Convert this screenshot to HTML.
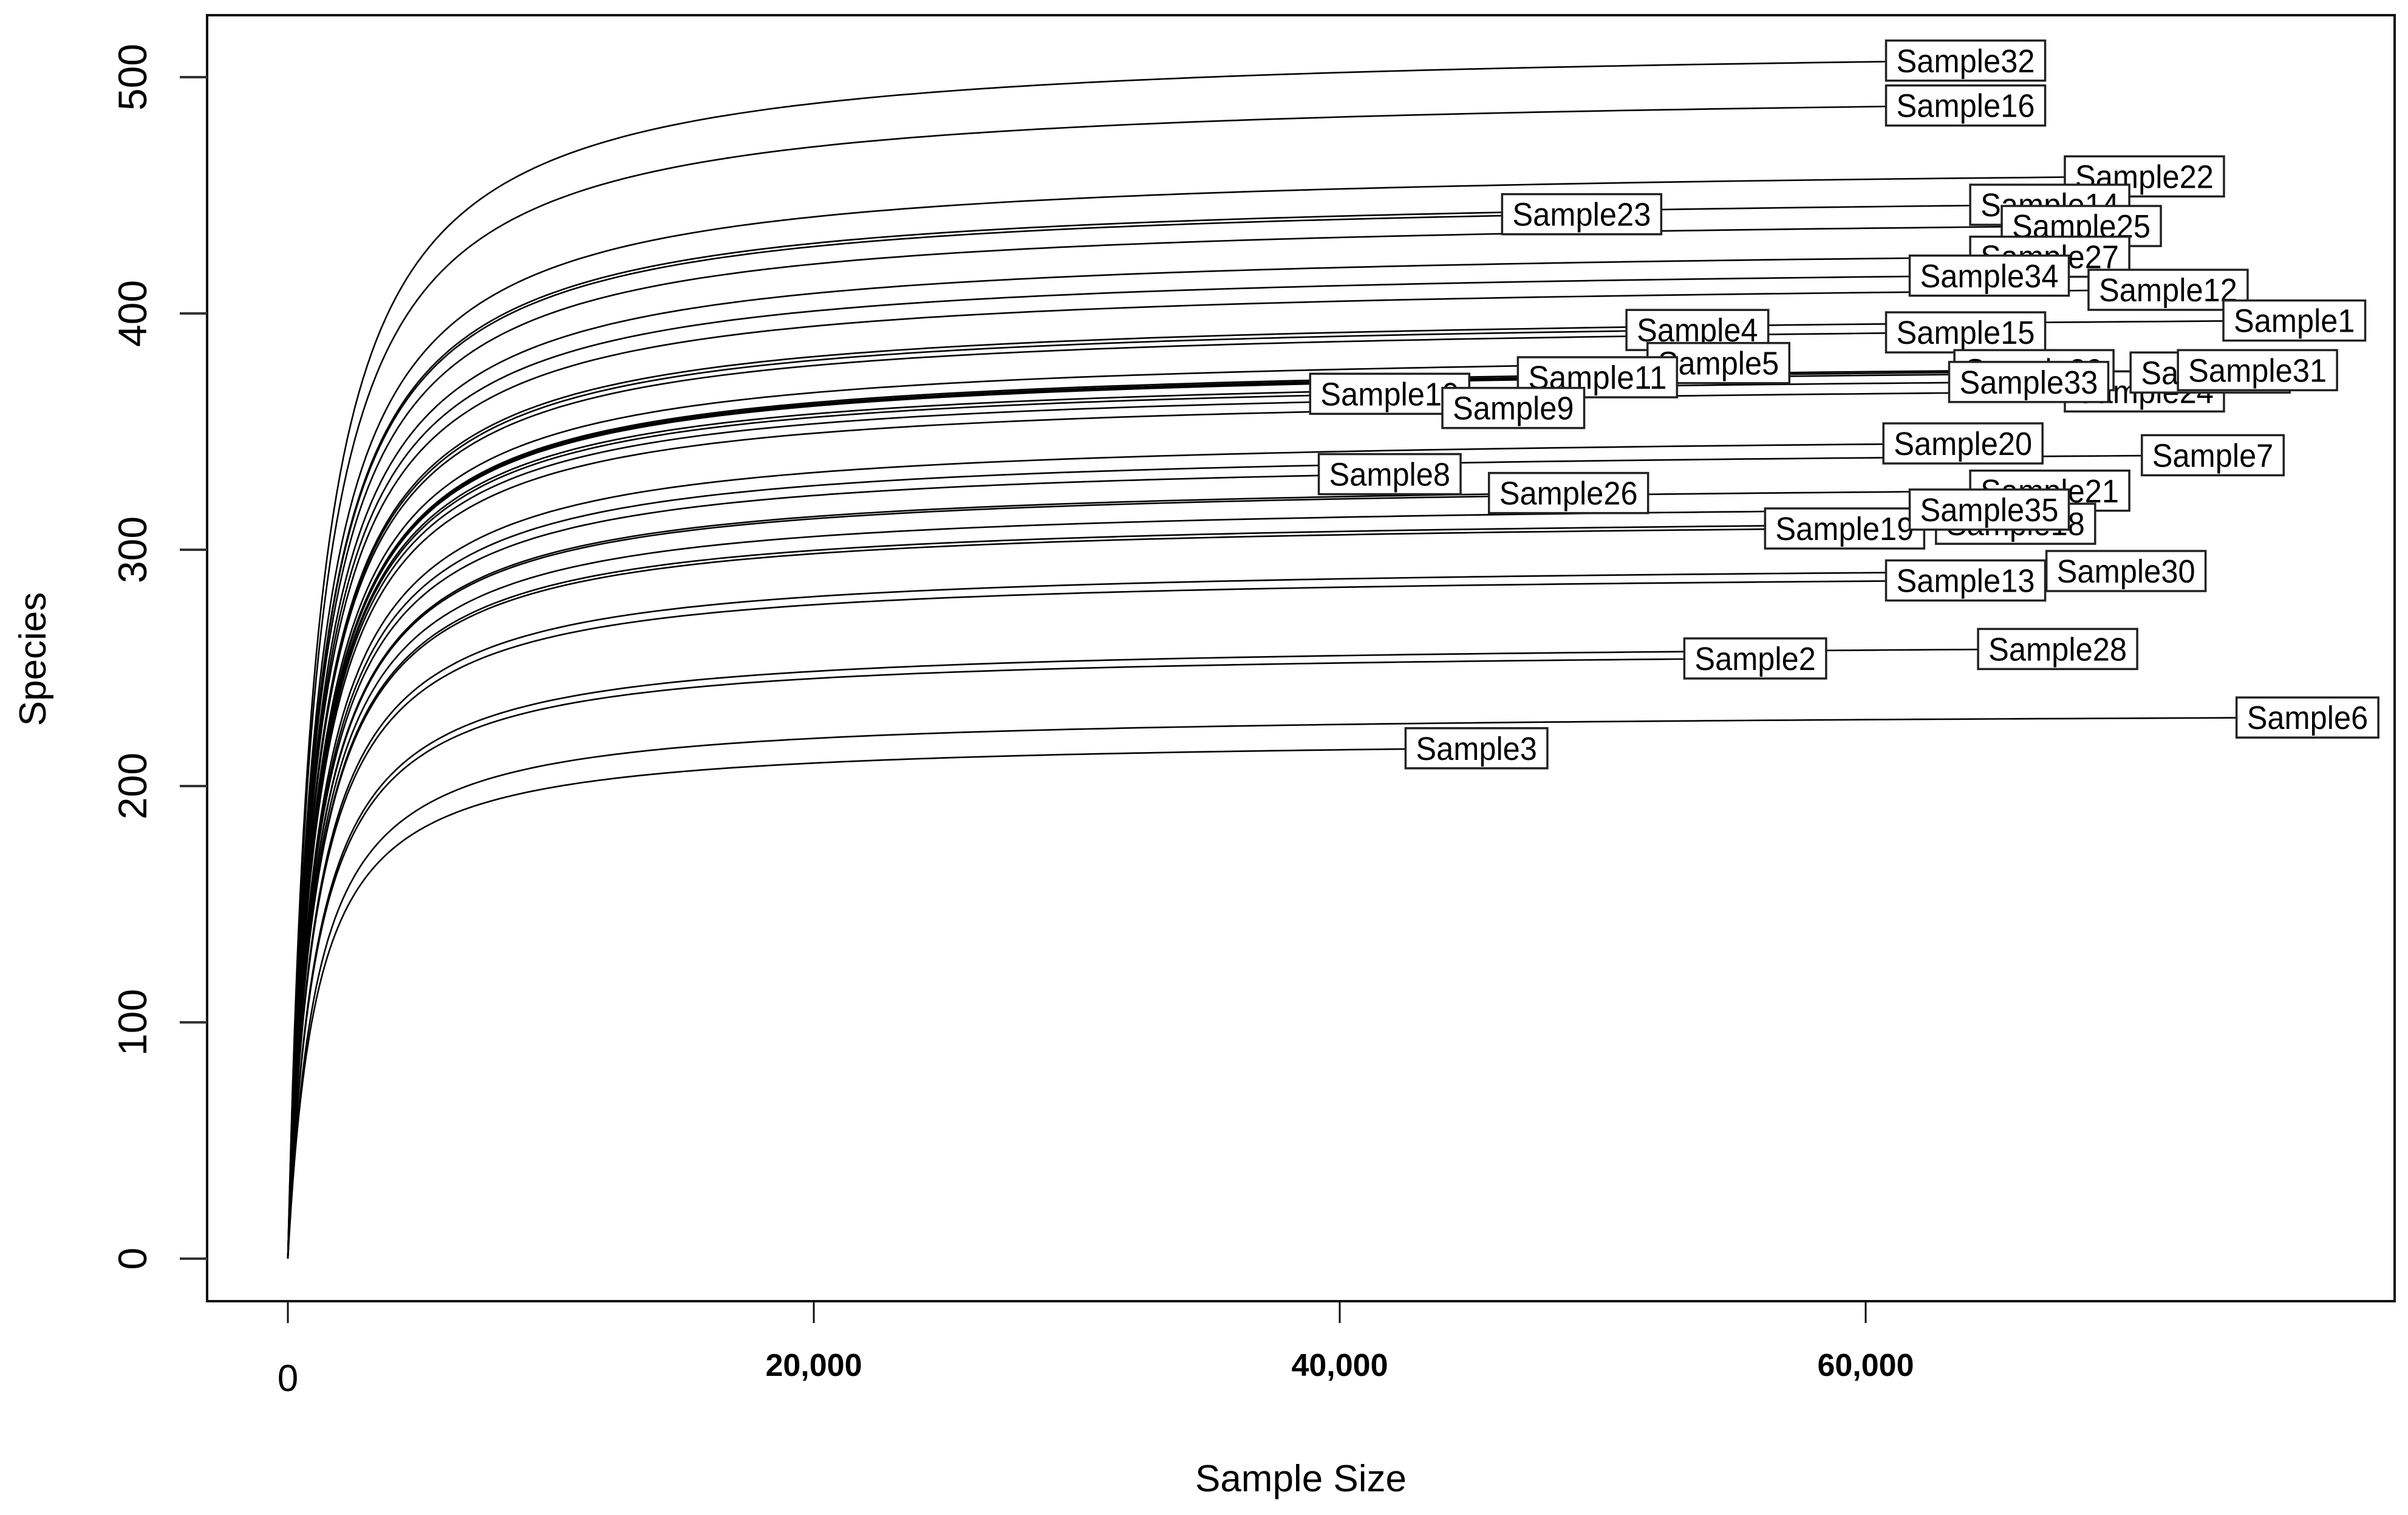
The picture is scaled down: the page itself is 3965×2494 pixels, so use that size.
<!DOCTYPE html>
<html><head><meta charset="utf-8"><style>
html,body{margin:0;padding:0;background:#fff;}
svg{display:block;font-family:"Liberation Sans",Arial,sans-serif;}
</style></head><body>
<svg id="chart" width="3965" height="2494" viewBox="0 0 3965 2494">
<rect x="0" y="0" width="3965" height="2494" fill="#fff"/>
<g id="curves"></g>
<g id="labels"></g>
<rect x="341" y="25" width="3602" height="2117" fill="none" stroke="#111" stroke-width="4"/>
<g id="axes"></g>
<text x="2142" y="2455" font-size="62" text-anchor="middle">Sample Size</text>
<text transform="translate(75,1085) rotate(-90)" font-size="62" text-anchor="middle">Species</text>
</svg>
<script>
const sampleNames = ["Sample32","Sample16","Sample22","Sample14","Sample23","Sample25","Sample27","Sample34","Sample12","Sample1","Sample4","Sample15","Sample5","Sample11","Sample10","Sample9","Sample24","Sample29","Sample33","Sample17","Sample31","Sample20","Sample7","Sample8","Sample26","Sample21","Sample18","Sample19","Sample35","Sample13","Sample30","Sample2","Sample28","Sample6","Sample3"];
const sampleDepths = [63800,63800,70600,67000,49200,68200,67000,64700,71500,76300,53600,63800,54400,49800,41900,46600,70600,66400,66200,73100,74900,63700,73200,41900,48700,67000,65700,59200,64700,63800,69900,55800,67300,76800,45200];
const finalSpecies = [507,488,458,446,442,437,424,416,410,397,393,392,379,373,366,360,367,376,371,375,376,345,340,332,324,325,311,309,317,287,291,254,258,229,216];
const xTicks = [0,20000,40000,60000];
const xTickLabels = ["0","20,000","40,000","60,000"];
const yTicks = [0,100,200,300,400,500];

const X = v => 474 + v * (866/20000);
const Y = v => 2072 - v * 3.89;
const K = 1100;
const NS = "http://www.w3.org/2000/svg";
const curves = document.getElementById('curves');
const labels = document.getElementById('labels');
const axes = document.getElementById('axes');

sampleNames.forEach((name, i) => {
  const N = sampleDepths[i], S = finalSpecies[i];
  let d = "";
  const steps = 160;
  for (let k = 0; k <= steps; k++) {
    const t = k/steps;
    const n = N * Math.pow(t, 2.2);
    const s = S * (n/(K+n)) * ((N+K)/N);
    d += (k ? "L" : "M") + X(n).toFixed(1) + "," + Y(s).toFixed(1);
  }
  const p = document.createElementNS(NS, "path");
  p.setAttribute("d", d);
  p.setAttribute("fill", "none");
  p.setAttribute("stroke", "#000");
  p.setAttribute("stroke-width", "2.6");
  
  
  curves.appendChild(p);
});

sampleNames.forEach((name, i) => {
  const cx = X(sampleDepths[i]), cy = Y(finalSpecies[i]);
  const tw = name.length * 28.5;
  const bw = tw + 34, bh = 66;
  const g = document.createElementNS(NS, "g");
  
  
  const r = document.createElementNS(NS, "rect");
  r.setAttribute("x", cx - bw/2); r.setAttribute("y", cy - bh/2);
  r.setAttribute("width", bw); r.setAttribute("height", bh);
  r.setAttribute("fill", "#fff"); r.setAttribute("stroke", "#222"); r.setAttribute("stroke-width", "3.5");
  
  
  const t = document.createElementNS(NS, "text");
  t.setAttribute("x", cx - tw/2); t.setAttribute("y", cy + 19);
  t.setAttribute("font-size", "54");
  t.setAttribute("textLength", tw);
  t.setAttribute("lengthAdjust", "spacingAndGlyphs");
  t.textContent = name;
  
  
  g.appendChild(r); g.appendChild(t);
  labels.appendChild(g);
});

xTicks.forEach((v, i) => {
  const l = document.createElementNS(NS, "line");
  l.setAttribute("x1", X(v)); l.setAttribute("x2", X(v));
  l.setAttribute("y1", 2142); l.setAttribute("y2", 2178);
  l.setAttribute("stroke", "#111"); l.setAttribute("stroke-width", "3");
  
  
  axes.appendChild(l);
  const t = document.createElementNS(NS, "text");
  t.setAttribute("x", X(v));
  t.setAttribute("y", v === 0 ? 2290 : 2265);
  t.setAttribute("font-size", v === 0 ? "62" : "52");
  t.setAttribute("font-weight", v === 0 ? "normal" : "bold");
  t.setAttribute("text-anchor", "middle");
  t.textContent = xTickLabels[i];
  
  
  axes.appendChild(t);
});

yTicks.forEach(v => {
  const l = document.createElementNS(NS, "line");
  l.setAttribute("x1", 296); l.setAttribute("x2", 341);
  l.setAttribute("y1", Y(v)); l.setAttribute("y2", Y(v));
  l.setAttribute("stroke", "#333"); l.setAttribute("stroke-width", "4");
  
  
  axes.appendChild(l);
  const t = document.createElementNS(NS, "text");
  t.setAttribute("transform", "translate(241," + Y(v) + ") rotate(-90)");
  t.setAttribute("font-size", "66");
  t.setAttribute("text-anchor", "middle");
  t.textContent = String(v);
  
  
  axes.appendChild(t);
});
</script>
</body></html>
